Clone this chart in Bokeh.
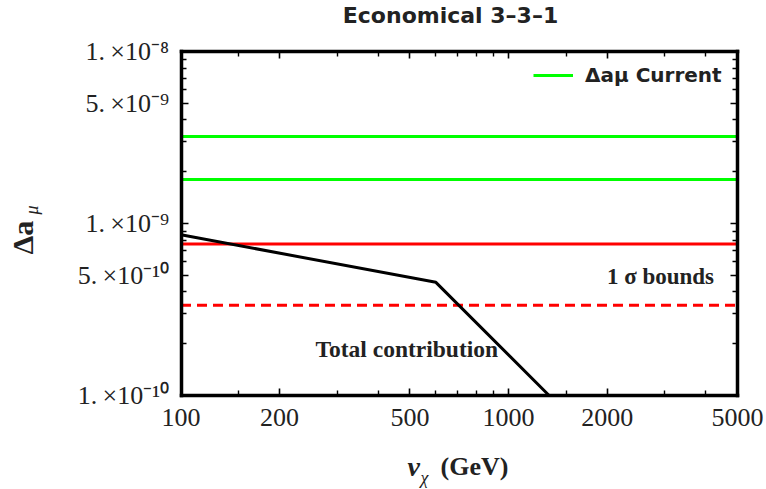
import math
from bokeh.plotting import figure
from bokeh.models import (Range1d, LogAxis, FixedTicker, CustomJSTickFormatter,
                          CustomLabelingPolicy, Label, Legend, LegendItem)
from bokeh.embed import file_html
from bokeh.resources import INLINE

# ---- data ----
x_domain = [100, 5000]
y_domain = [1e-10, 1e-8]
green_levels = [3.2e-9, 1.8e-9]
red_solid_level = 7.6e-10
red_dashed_level = 3.35e-10
total_x = [100, 600, 1330]
total_y = [8.6e-10, 4.55e-10, 1.0e-10]

x_major = [100, 200, 500, 1000, 2000, 5000]
x_major_labels = ["100", "200", "500", "1000", "2000", "5000"]
x_minor = [150, 300, 400, 600, 700, 800, 900, 1500, 3000, 4000]
y_major = [1e-10, 5e-10, 1e-9, 5e-9, 1e-8]
y_major_labels = ["1.\u2009×10⁻¹⁰", "5.\u2009×10⁻¹⁰", "1.\u2009×10⁻⁹",
                  "5.\u2009×10⁻⁹", "1.\u2009×10⁻⁸"]
y_minor = [2e-10, 3e-10, 4e-10, 6e-10, 7e-10, 8e-10, 9e-10,
           2e-9, 3e-9, 4e-9, 6e-9, 7e-9, 8e-9, 9e-9]

SERIF = "Liberation Serif"
SANS = "DejaVu Sans"

# ---- layout (pixels) ----
W, H = 766, 489
BOX_L, BOX_R, BOX_T, BOX_B = 180.5, 737, 51, 395

lx0, lx1 = math.log10(x_domain[0]), math.log10(x_domain[1])
ly0, ly1 = math.log10(y_domain[0]), math.log10(y_domain[1])
xppd = (BOX_R - BOX_L) / (lx1 - lx0)
yppd = (BOX_B - BOX_T) / (ly1 - ly0)
x_rng = Range1d(10 ** (lx0 - BOX_L / xppd), 10 ** (lx1 + (W - BOX_R) / xppd))
y_rng = Range1d(10 ** (ly0 - (H - BOX_B) / yppd), 10 ** (ly1 + BOX_T / yppd))

p = figure(x_axis_type="log", y_axis_type="log", x_range=x_rng, y_range=y_rng,
           x_axis_location=None, y_axis_location=None,
           width=W, height=H, output_backend="svg", toolbar_location=None,
           min_border=0)
p.xgrid.visible = False
p.ygrid.visible = False
p.outline_line_color = None
p.background_fill_color = "white"
p.border_fill_color = "white"

JS = """
for (let i = 0; i < vals.length; i++) {
  if (Math.abs(tick / vals[i] - 1) < 1e-6) { return labs[i]; }
}
return "";
"""

def make_axis(ticks, minor, labels, fixed, bounds, show):
    ax = LogAxis(ticker=FixedTicker(ticks=ticks, minor_ticks=minor),
                 fixed_location=fixed, bounds=bounds)
    ax.axis_line_width = 3.5
    ax.axis_line_color = "black"
    ax.axis_line_cap = "square"
    ax.major_tick_in = 7
    ax.major_tick_out = 0
    ax.minor_tick_in = 5
    ax.minor_tick_out = 0
    ax.major_tick_line_width = 1.6
    ax.minor_tick_line_width = 1.4
    ax.major_tick_line_color = "black"
    ax.minor_tick_line_color = "black"
    if show:
        ax.formatter = CustomJSTickFormatter(args=dict(vals=ticks, labs=labels), code=JS)
        ax.major_label_text_font = SERIF
        ax.major_label_text_font_size = "26px"
        ax.major_label_text_color = "#222222"
    else:
        ax.major_label_policy = CustomLabelingPolicy(
            code="for (const i of indices) { indices.unset(i) }")
    return ax

xb = make_axis(x_major, x_minor, x_major_labels, y_domain[0], tuple(x_domain), True)
xb.major_label_standoff = 13
p.add_layout(xb, "below")
xt = make_axis(x_major, x_minor, x_major_labels, y_domain[1], tuple(x_domain), False)
p.add_layout(xt, "above")
yl = make_axis(y_major, y_minor, y_major_labels, x_domain[0], tuple(y_domain), True)
yl.major_label_standoff = 12
p.add_layout(yl, "left")
yr = make_axis(y_major, y_minor, y_major_labels, x_domain[1], tuple(y_domain), False)
p.add_layout(yr, "right")

# ---- glyphs ----
g_lines = []
for lvl in green_levels:
    g_lines.append(p.line(x_domain, [lvl, lvl], line_color="#00FF00", line_width=3))
p.line(x_domain, [red_solid_level, red_solid_level], line_color="#FF0000", line_width=3)
p.line(x_domain, [red_dashed_level, red_dashed_level], line_color="#FF0000",
       line_width=3, line_dash="10 6")
p.line(total_x, total_y, line_color="black", line_width=3)

# ---- legend ----
leg = Legend(items=[LegendItem(label="Δaμ Current", renderers=[g_lines[0]])],
             location=(533, H - 87), margin=0, padding=0,
             glyph_width=40, glyph_height=20, label_height=20, label_standoff=12,
             background_fill_alpha=0, border_line_alpha=0,
             label_text_font=SANS, label_text_font_style="bold",
             label_text_font_size="20px", label_text_color="#222222")
p.add_layout(leg)

# ---- annotations ----
p.add_layout(Label(x=2910, y=4.9e-10, text="1 σ bounds", text_align="center",
                   text_baseline="middle", text_font=SERIF, text_font_style="bold",
                   text_font_size="23px", text_color="#222222"))
p.add_layout(Label(x=489, y=1.87e-10, text="Total contribution", text_align="center",
                   text_baseline="middle", text_font=SERIF, text_font_style="bold",
                   text_font_size="23.5px", text_color="#222222"))

def scr_label(x, y_top, text, **kw):
    base = dict(x_units="screen", y_units="screen", text_baseline="middle",
                text_color="#222222")
    base.update(kw)
    p.add_layout(Label(x=x, y=H - y_top, text=text, **base))

# title
scr_label(450, 15, "Economical 3–3–1", text_align="center", text_font=SANS,
          text_font_style="bold", text_font_size="22px")
# y axis label (rotated)
scr_label(22, 254, "Δa", angle=math.pi / 2, text_align="left", text_font=SERIF,
          text_font_style="bold", text_font_size="30px")
scr_label(31, 214, "μ", angle=math.pi / 2, text_align="left", text_font=SERIF,
          text_font_style="italic", text_font_size="18px")
# x axis label
scr_label(407, 466, "v", text_align="left", text_font=SERIF,
          text_font_style="bold italic", text_font_size="28px")
scr_label(420, 477, "χ", text_align="left", text_font=SERIF,
          text_font_style="italic", text_font_size="18px")
scr_label(440, 466, "(GeV)", text_align="left", text_font=SERIF,
          text_font_style="bold", text_font_size="26px")

open("out.html", "w").write(file_html(p, INLINE))
